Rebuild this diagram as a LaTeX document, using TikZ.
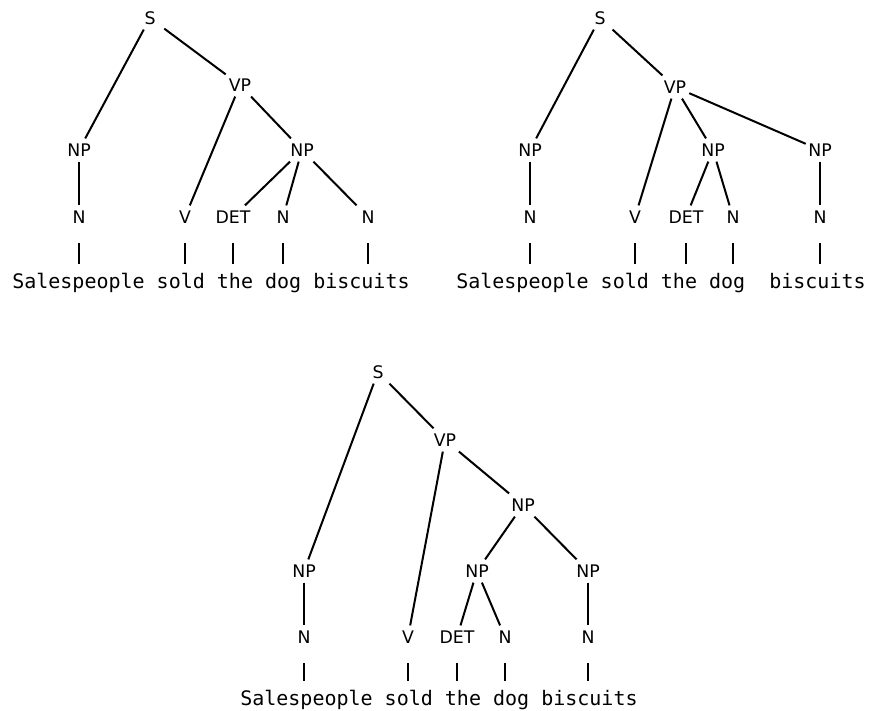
\documentclass[tikz,border=0pt]{standalone}
\usepackage{fontspec}
\setmainfont{DejaVu Sans}
\setmonofont{DejaVu Sans Mono}
\usepackage{tikz}
\tikzstyle{cat} = [rectangle, minimum width=21pt, minimum height=17pt, inner sep=0pt, font=\fontsize{13}{15}\selectfont]
\tikzstyle{branch} = [line width=1.5pt]
\tikzstyle{leaf} = [line width=1.5pt, shorten <=11pt, shorten >=6pt]
\tikzstyle{words} = [inner sep=0pt, anchor=base west, font=\fontsize{15}{17}\selectfont\ttfamily]

\begin{document}
\begin{tikzpicture}[x=0.75pt, y=-0.75pt]
\useasboundingbox (0,0) rectangle (872,711);

% Reading 1: [the dog biscuits] as one NP
\node (S1) [cat] at (150,18) {S};
\node (VP1) [cat] at (240,85) {VP};
\node (NPa1) [cat] at (79,150) {NP};
\node (NPb1) [cat] at (302,150) {NP};
\node (Na1) [cat] at (79,217) {N};
\node (V1) [cat] at (185,217) {V};
\node (DET1) [cat] at (233,217) {DET};
\node (Nb1) [cat] at (283,217) {N};
\node (Nc1) [cat] at (368,217) {N};
\node (sent1) [words] at (12,288) {Salespeople sold the dog biscuits};

\draw[branch] (S1) -- (NPa1);
\draw[branch] (S1) -- (VP1);
\draw[branch] (VP1) -- (V1);
\draw[branch] (VP1) -- (NPb1);
\draw[branch] (NPa1) -- (Na1);
\draw[branch] (NPb1) -- (DET1);
\draw[branch] (NPb1) -- (Nb1);
\draw[branch] (NPb1) -- (Nc1);
\foreach \t in {Na1,V1,DET1,Nb1,Nc1}
  \draw[leaf] (\t) -- (\t |- sent1.north);

% Reading 2: [the dog] and [biscuits] as two objects
\node (S2) [cat] at (600,18) {S};
\node (VP2) [cat] at (675,87) {VP};
\node (NPa2) [cat] at (530,150) {NP};
\node (NPb2) [cat] at (713,150) {NP};
\node (NPc2) [cat] at (820,150) {NP};
\node (Na2) [cat] at (530,217) {N};
\node (V2) [cat] at (635,217) {V};
\node (DET2) [cat] at (686,217) {DET};
\node (Nb2) [cat] at (733,217) {N};
\node (Nc2) [cat] at (820,217) {N};
\node (sent2) [words] at (456,288) {Salespeople sold the dog~~biscuits};

\draw[branch] (S2) -- (NPa2);
\draw[branch] (S2) -- (VP2);
\draw[branch] (VP2) -- (V2);
\draw[branch] (VP2) -- (NPb2);
\draw[branch] (VP2) -- (NPc2);
\draw[branch] (NPa2) -- (Na2);
\draw[branch] (NPb2) -- (DET2);
\draw[branch] (NPb2) -- (Nb2);
\draw[branch] (NPc2) -- (Nc2);
\foreach \t in {Na2,V2,DET2,Nb2,Nc2}
  \draw[leaf] (\t) -- (\t |- sent2.north);

% Reading 3: [[the dog] [biscuits]] as one NP
\node (S3) [cat] at (378,372) {S};
\node (VP3) [cat] at (445,440) {VP};
\node (NPm3) [cat] at (523,505) {NP};
\node (NPa3) [cat] at (304,571) {NP};
\node (NPl3) [cat] at (477,571) {NP};
\node (NPc3) [cat] at (588,571) {NP};
\node (Na3) [cat] at (304,637) {N};
\node (V3) [cat] at (408,637) {V};
\node (DET3) [cat] at (457,637) {DET};
\node (Nb3) [cat] at (505,637) {N};
\node (Nc3) [cat] at (588,637) {N};
\node (sent3) [words] at (240,705) {Salespeople sold the dog biscuits};

\draw[branch] (S3) -- (NPa3);
\draw[branch] (S3) -- (VP3);
\draw[branch] (VP3) -- (V3);
\draw[branch] (VP3) -- (NPm3);
\draw[branch] (NPm3) -- (NPl3);
\draw[branch] (NPm3) -- (NPc3);
\draw[branch] (NPa3) -- (Na3);
\draw[branch] (NPl3) -- (DET3);
\draw[branch] (NPl3) -- (Nb3);
\draw[branch] (NPc3) -- (Nc3);
\foreach \t in {Na3,V3,DET3,Nb3,Nc3}
  \draw[leaf] (\t) -- (\t |- sent3.north);
\end{tikzpicture}
\end{document}
